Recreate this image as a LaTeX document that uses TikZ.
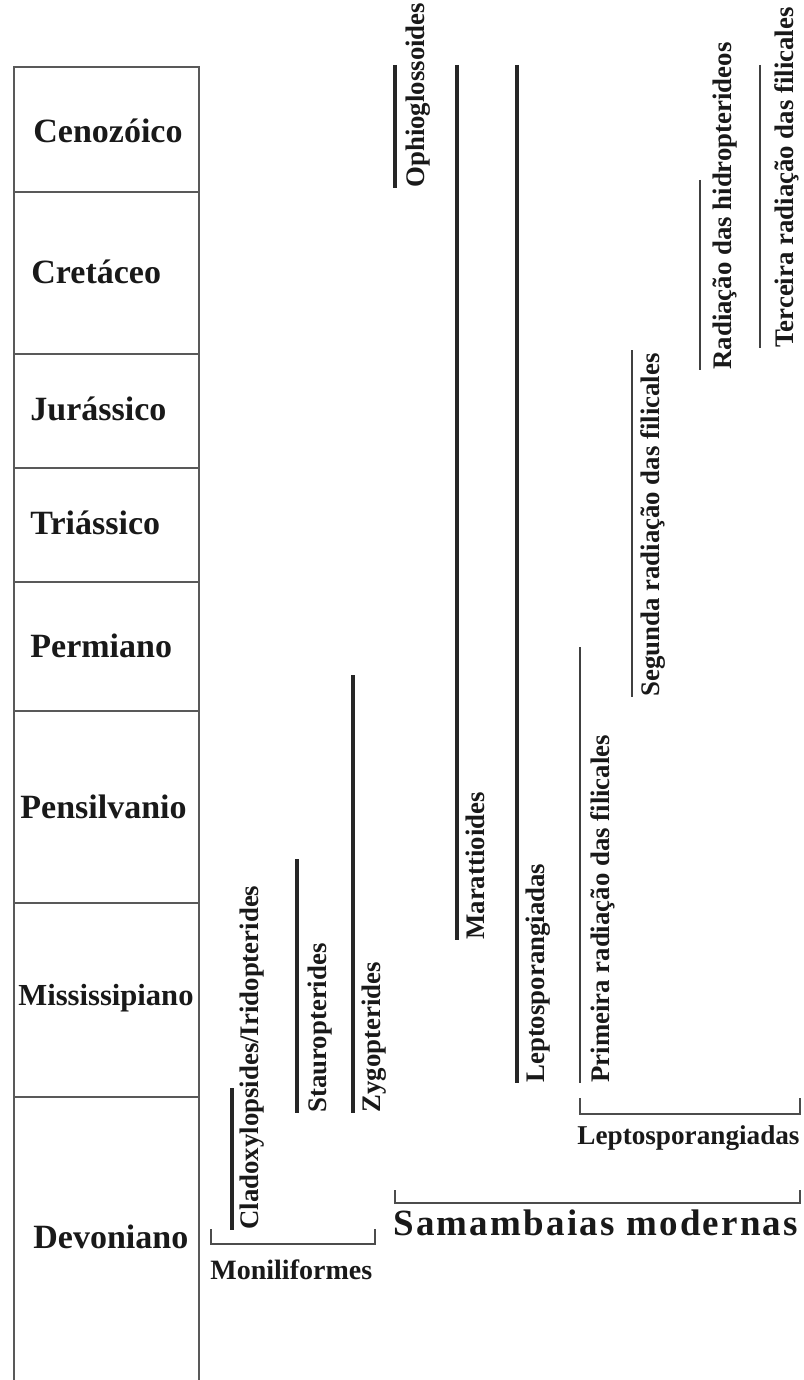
\documentclass[tikz,border=0pt]{standalone}
\usepackage{fontspec}
\setmainfont{Liberation Serif}
\usetikzlibrary{positioning}

\begin{document}
\begin{tikzpicture}[x=0.5pt,y=-0.5pt,
  frame/.style={line width=1pt,black!65},
  era/.style={anchor=west,inner sep=0pt,text=black!90,font=\bfseries\fontsize{17}{19}\selectfont},
  bar/.style={line width=1.7pt,black!85},
  thinbar/.style={line width=1.2pt,black!75},
  taxon/.style={xshift=#1,rotate=90,anchor=north west,inner sep=0pt,text=black!90,
    font=\bfseries\fontsize{13.4}{15}\selectfont},
  taxon/.default=4pt,
  bracket/.style={line width=1pt,black!70},
  group/.style={anchor=base west,inner sep=0pt,text=black!90,font=\bfseries\fontsize{14}{16}\selectfont}]

  \useasboundingbox (0,0) rectangle (803,1380);

  % time scale column
  \draw[frame] (14,1380) -- (14,67) -- (199,67) -- (199,1380);
  \foreach \y in {192,354,468,582,711,903,1097}
    \draw[frame] (14,\y) -- (199,\y);

  \node[era] (ceno) at (33,131) {Cenozóico};
  \node[era] (cret) at (31,272) {Cretáceo};
  \node[era] (jura) at (30,409) {Jurássico};
  \node[era] (tria) at (30,523) {Triássico};
  \node[era] (perm) at (30,646) {Permiano};
  \node[era] (pens) at (20,807) {Pensilvanio};
  \node[era,font=\bfseries\fontsize{15.3}{17}\selectfont] (miss) at (18,998) {Mississipiano};
  \node[era] (devo) at (33,1237) {Devoniano};

  % ranges
  \coordinate (clad-t) at (232,1088);  \coordinate (clad-b) at (232,1230);
  \coordinate (stau-t) at (297,859);   \coordinate (stau-b) at (297,1113);
  \coordinate (zygo-t) at (353,675);   \coordinate (zygo-b) at (353,1113);
  \coordinate (ophi-t) at (395,65);    \coordinate (ophi-b) at (395,188);
  \coordinate (mara-t) at (457,65);    \coordinate (mara-b) at (457,940);
  \coordinate (lept-t) at (517,65);    \coordinate (lept-b) at (517,1083);
  \coordinate (prim-t) at (580,647);   \coordinate (prim-b) at (580,1083);
  \coordinate (segu-t) at (632,350);   \coordinate (segu-b) at (632,697);
  \coordinate (hidr-t) at (700,180);   \coordinate (hidr-b) at (700,370);
  \coordinate (terc-t) at (760,65);    \coordinate (terc-b) at (760,348);

  \draw[bar] (clad-t) -- (clad-b);
  \draw[bar] (stau-t) -- (stau-b);
  \draw[bar] (zygo-t) -- (zygo-b);
  \draw[bar] (ophi-t) -- (ophi-b);
  \draw[bar] (mara-t) -- (mara-b);
  \draw[bar] (lept-t) -- (lept-b);
  \draw[thinbar] (prim-t) -- (prim-b);
  \draw[thinbar] (segu-t) -- (segu-b);
  \draw[thinbar] (hidr-t) -- (hidr-b);
  \draw[thinbar] (terc-t) -- (terc-b);

  \node[taxon] (clad) at (clad-b) {Cladoxylopsides/Iridopterides};
  \node[taxon=5pt] (stau) at (stau-b) {Stauropterides};
  \node[taxon] (zygo) at (zygo-b) {Zygopterides};
  \node[taxon=5pt] (ophi) at (ophi-b) {Ophioglossoides};
  \node[taxon] (mara) at (mara-b) {Marattioides};
  \node[taxon] (lept) at (lept-b) {Leptosporangiadas};
  \node[taxon=5pt] (prim) at (prim-b) {Primeira radiação das filicales};
  \node[taxon] (segu) at (segu-b) {Segunda radiação das filicales};
  \node[taxon=6pt] (hidr) at (hidr-b) {Radiação das hidropterideos};
  \node[taxon=7pt] (terc) at (terc-b) {Terceira radiação das filicales};

  % groups
  \coordinate (moni-l) at (211,1229);  \coordinate (moni-r) at (375,1229);
  \coordinate (lepg-l) at (580,1098);  \coordinate (lepg-r) at (800,1098);
  \coordinate (sama-l) at (395,1190);  \coordinate (sama-r) at (800,1190);

  \draw[bracket] (moni-l) -- ++(0,15) -| (moni-r);
  \draw[bracket] (lepg-l) -- ++(0,16) -| (lepg-r);
  \draw[bracket] (sama-l) -- ++(0,13) -| (sama-r);

  \node[group] (moni) at (210,1279) {Moniliformes};
  \node[group,font=\bfseries\fontsize{13.6}{16}\selectfont] (lepg) at (577,1144) {Leptosporangiadas};
  \node[group,font=\bfseries\fontsize{18.5}{20}\selectfont\addfontfeatures{LetterSpace=6}] (sama) at (393,1235) {Samambaias modernas};
\end{tikzpicture}
\end{document}
